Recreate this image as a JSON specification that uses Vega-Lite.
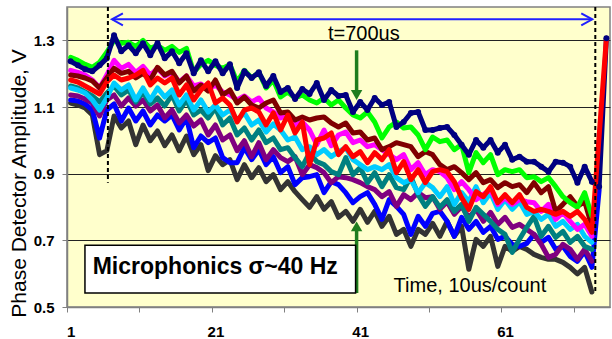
{
"$schema":"https://vega.github.io/schema/vega-lite/v6.json",
"width":543,"height":300,
"autosize":{"type":"none"},
"padding":{"left":67,"top":7,"right":2,"bottom":32},
"background":"#ffffff",
"config":{"view":{"fill":"#FFFFCC","stroke":"#808080","strokeWidth":1.5},"font":"Liberation Sans"},
"datasets":{
"series":[
{"i":1,"navy":1.237,"green":1.249,"magenta":1.21,"maroon":1.196,"red":1.181,"teal":1.163,"cyan":1.157,"purple":1.136,"blue":1.121,"gray":1.112},
{"i":2,"navy":1.225,"green":1.24,"magenta":1.204,"maroon":1.193,"red":1.175,"teal":1.157,"cyan":1.151,"purple":1.133,"blue":1.118,"gray":1.106},
{"i":3,"navy":1.213,"green":1.228,"magenta":1.196,"maroon":1.187,"red":1.163,"teal":1.145,"cyan":1.142,"purple":1.124,"blue":1.109,"gray":1.097},
{"i":4,"navy":1.207,"green":1.219,"magenta":1.181,"maroon":1.178,"red":1.151,"teal":1.133,"cyan":1.121,"purple":1.112,"blue":1.091,"gray":1.076},
{"i":5,"navy":1.225,"green":1.234,"magenta":1.157,"maroon":1.157,"red":1.139,"teal":1.115,"cyan":1.091,"purple":1.073,"blue":1.007,"gray":0.957},
{"i":6,"navy":1.246,"green":1.264,"magenta":1.196,"maroon":1.187,"red":1.175,"teal":1.142,"cyan":1.127,"purple":1.121,"blue":1.091,"gray":0.969},
{"i":7,"navy":1.315,"green":1.3,"magenta":1.24,"maroon":1.216,"red":1.196,"teal":1.163,"cyan":1.172,"purple":1.136,"blue":1.109,"gray":1.073},
{"i":8,"navy":1.267,"green":1.291,"magenta":1.216,"maroon":1.201,"red":1.181,"teal":1.136,"cyan":1.151,"purple":1.103,"blue":1.058,"gray":1.037},
{"i":9,"navy":1.285,"green":1.294,"magenta":1.228,"maroon":1.207,"red":1.187,"teal":1.151,"cyan":1.166,"purple":1.127,"blue":1.097,"gray":1.058},
{"i":10,"navy":1.261,"green":1.282,"magenta":1.204,"maroon":1.187,"red":1.196,"teal":1.115,"cyan":1.121,"purple":1.103,"blue":1.058,"gray":0.987},
{"i":11,"navy":1.291,"green":1.3,"magenta":1.222,"maroon":1.201,"red":1.21,"teal":1.145,"cyan":1.157,"purple":1.121,"blue":1.088,"gray":1.046},
{"i":12,"navy":1.255,"green":1.276,"magenta":1.196,"maroon":1.181,"red":1.166,"teal":1.109,"cyan":1.121,"purple":1.088,"blue":1.046,"gray":0.999},
{"i":13,"navy":1.291,"green":1.285,"magenta":1.216,"maroon":1.219,"red":1.187,"teal":1.127,"cyan":1.157,"purple":1.106,"blue":1.076,"gray":1.028},
{"i":14,"navy":1.246,"green":1.27,"magenta":1.193,"maroon":1.196,"red":1.172,"teal":1.103,"cyan":1.13,"purple":1.067,"blue":1.058,"gray":0.984},
{"i":15,"navy":1.267,"green":1.282,"magenta":1.204,"maroon":1.207,"red":1.187,"teal":1.136,"cyan":1.151,"purple":1.091,"blue":1.076,"gray":1.016},
{"i":16,"navy":1.231,"green":1.264,"magenta":1.175,"maroon":1.172,"red":1.136,"teal":1.088,"cyan":1.106,"purple":1.052,"blue":1.031,"gray":0.969},
{"i":17,"navy":1.261,"green":1.276,"magenta":1.193,"maroon":1.193,"red":1.166,"teal":1.121,"cyan":1.136,"purple":1.076,"blue":1.067,"gray":1.013},
{"i":18,"navy":1.201,"green":1.204,"magenta":1.163,"maroon":1.148,"red":1.121,"teal":1.076,"cyan":1.091,"purple":1.043,"blue":0.978,"gray":0.957},
{"i":19,"navy":1.24,"green":1.228,"magenta":1.169,"maroon":1.166,"red":1.151,"teal":1.091,"cyan":1.121,"purple":1.061,"blue":1.013,"gray":0.987},
{"i":20,"navy":1.207,"green":1.24,"magenta":1.151,"maroon":1.148,"red":1.172,"teal":1.067,"cyan":1.085,"purple":1.016,"blue":0.993,"gray":0.909},
{"i":21,"navy":1.237,"green":1.225,"magenta":1.166,"maroon":1.181,"red":1.112,"teal":1.097,"cyan":1.106,"purple":1.046,"blue":1.007,"gray":0.954},
{"i":22,"navy":1.201,"green":1.216,"magenta":1.145,"maroon":1.136,"red":1.127,"teal":1.046,"cyan":1.076,"purple":1.001,"blue":0.948,"gray":0.927},
{"i":23,"navy":1.228,"green":1.228,"magenta":1.136,"maroon":1.151,"red":1.106,"teal":1.067,"cyan":1.091,"purple":1.016,"blue":0.933,"gray":0.942},
{"i":24,"navy":1.157,"green":1.175,"magenta":1.121,"maroon":1.112,"red":1.055,"teal":1.016,"cyan":1.061,"purple":0.969,"blue":0.933,"gray":0.882},
{"i":25,"navy":1.207,"green":1.21,"magenta":1.133,"maroon":1.13,"red":1.091,"teal":1.037,"cyan":1.082,"purple":0.999,"blue":0.978,"gray":0.927},
{"i":26,"navy":1.187,"green":1.187,"magenta":1.115,"maroon":1.106,"red":1.097,"teal":1.001,"cyan":1.046,"purple":0.951,"blue":0.942,"gray":0.888},
{"i":27,"navy":1.204,"green":1.204,"magenta":1.127,"maroon":1.097,"red":1.085,"teal":1.031,"cyan":1.061,"purple":0.993,"blue":0.972,"gray":0.918},
{"i":28,"navy":1.163,"green":1.157,"magenta":1.097,"maroon":1.112,"red":1.046,"teal":0.993,"cyan":1.025,"purple":0.942,"blue":0.927,"gray":0.876},
{"i":29,"navy":1.193,"green":1.181,"magenta":1.085,"maroon":1.121,"red":1.082,"teal":1.007,"cyan":1.049,"purple":0.972,"blue":0.951,"gray":0.897},
{"i":30,"navy":1.145,"green":1.13,"magenta":1.067,"maroon":1.082,"red":1.031,"teal":0.972,"cyan":1.031,"purple":0.948,"blue":0.903,"gray":0.852},
{"i":31,"navy":1.157,"green":1.145,"magenta":1.076,"maroon":1.085,"red":1.076,"teal":0.978,"cyan":1.001,"purple":0.936,"blue":0.921,"gray":0.876},
{"i":32,"navy":1.124,"green":1.127,"magenta":1.046,"maroon":1.061,"red":1.022,"teal":0.948,"cyan":1.01,"purple":0.951,"blue":0.867,"gray":0.846},
{"i":33,"navy":1.154,"green":1.136,"magenta":1.055,"maroon":1.07,"red":1.055,"teal":0.921,"cyan":0.972,"purple":0.897,"blue":0.888,"gray":0.822},
{"i":34,"navy":1.139,"green":1.121,"magenta":1.031,"maroon":1.061,"red":0.927,"teal":0.963,"cyan":0.981,"purple":0.927,"blue":0.891,"gray":0.799},
{"i":35,"navy":1.172,"green":1.112,"magenta":0.987,"maroon":1.067,"red":1.001,"teal":0.936,"cyan":0.957,"purple":0.918,"blue":0.897,"gray":0.831},
{"i":36,"navy":1.121,"green":1.127,"magenta":1.031,"maroon":1.07,"red":1.007,"teal":0.927,"cyan":0.972,"purple":0.903,"blue":0.843,"gray":0.793},
{"i":37,"navy":1.151,"green":1.106,"magenta":0.984,"maroon":1.052,"red":1.022,"teal":0.906,"cyan":0.951,"purple":0.873,"blue":0.876,"gray":0.816},
{"i":38,"navy":1.133,"green":1.121,"magenta":1.016,"maroon":1.04,"red":0.957,"teal":0.897,"cyan":0.966,"purple":0.891,"blue":0.867,"gray":0.769},
{"i":39,"navy":1.136,"green":1.097,"magenta":1.025,"maroon":1.052,"red":0.981,"teal":0.948,"cyan":0.978,"purple":0.888,"blue":0.843,"gray":0.787},
{"i":40,"navy":1.085,"green":1.076,"magenta":0.993,"maroon":1.022,"red":0.951,"teal":0.897,"cyan":0.942,"purple":0.882,"blue":0.813,"gray":0.757},
{"i":41,"navy":1.115,"green":1.067,"magenta":1.001,"maroon":1.025,"red":0.966,"teal":0.918,"cyan":0.927,"purple":0.873,"blue":0.831,"gray":0.793},
{"i":42,"navy":1.091,"green":1.085,"magenta":0.981,"maroon":1.001,"red":0.933,"teal":0.873,"cyan":0.912,"purple":0.861,"blue":0.843,"gray":0.754},
{"i":43,"navy":1.127,"green":1.055,"magenta":0.987,"maroon":1.007,"red":0.963,"teal":0.903,"cyan":0.921,"purple":0.852,"blue":0.808,"gray":0.787},
{"i":44,"navy":1.106,"green":1.007,"magenta":0.972,"maroon":0.972,"red":0.942,"teal":0.861,"cyan":0.912,"purple":0.831,"blue":0.763,"gray":0.742},
{"i":45,"navy":1.115,"green":1.04,"magenta":0.957,"maroon":0.981,"red":0.972,"teal":0.897,"cyan":0.927,"purple":0.846,"blue":0.822,"gray":0.772},
{"i":46,"navy":1.04,"green":1.055,"magenta":0.942,"maroon":0.993,"red":0.903,"teal":0.858,"cyan":0.888,"purple":0.802,"blue":0.802,"gray":0.718},
{"i":47,"navy":1.055,"green":1.037,"magenta":0.957,"maroon":0.987,"red":0.936,"teal":0.852,"cyan":0.873,"purple":0.837,"blue":0.778,"gray":0.733},
{"i":48,"navy":1.082,"green":1.04,"magenta":0.912,"maroon":0.981,"red":0.882,"teal":0.891,"cyan":0.882,"purple":0.822,"blue":0.718,"gray":0.682},
{"i":49,"navy":1.085,"green":1.016,"magenta":0.933,"maroon":0.951,"red":0.912,"teal":0.837,"cyan":0.843,"purple":0.843,"blue":0.772,"gray":0.733},
{"i":50,"navy":1.031,"green":0.972,"magenta":0.897,"maroon":0.966,"red":0.873,"teal":0.802,"cyan":0.873,"purple":0.828,"blue":0.742,"gray":0.718},
{"i":51,"navy":1.031,"green":1.01,"magenta":0.912,"maroon":0.957,"red":0.906,"teal":0.831,"cyan":0.858,"purple":0.831,"blue":0.781,"gray":0.751},
{"i":52,"navy":1.037,"green":0.996,"magenta":0.906,"maroon":0.927,"red":0.912,"teal":0.799,"cyan":0.831,"purple":0.793,"blue":0.787,"gray":0.712},
{"i":53,"navy":1.04,"green":1.001,"magenta":0.888,"maroon":0.912,"red":0.906,"teal":0.822,"cyan":0.861,"purple":0.816,"blue":0.757,"gray":0.757},
{"i":54,"navy":1.016,"green":0.972,"magenta":0.852,"maroon":0.921,"red":0.876,"teal":0.787,"cyan":0.808,"purple":0.778,"blue":0.712,"gray":0.712},
{"i":55,"navy":0.987,"green":0.987,"magenta":0.876,"maroon":0.903,"red":0.828,"teal":0.808,"cyan":0.843,"purple":0.802,"blue":0.769,"gray":0.742},
{"i":56,"navy":0.957,"green":0.903,"magenta":0.852,"maroon":0.882,"red":0.793,"teal":0.757,"cyan":0.816,"purple":0.769,"blue":0.733,"gray":0.613},
{"i":57,"navy":1.001,"green":0.963,"magenta":0.822,"maroon":0.903,"red":0.846,"teal":0.799,"cyan":0.861,"purple":0.793,"blue":0.757,"gray":0.703},
{"i":58,"navy":0.978,"green":0.933,"magenta":0.837,"maroon":0.873,"red":0.831,"teal":0.778,"cyan":0.813,"purple":0.757,"blue":0.724,"gray":0.682},
{"i":59,"navy":1.001,"green":0.957,"magenta":0.852,"maroon":0.882,"red":0.861,"teal":0.757,"cyan":0.843,"purple":0.784,"blue":0.742,"gray":0.712},
{"i":60,"navy":0.963,"green":0.897,"magenta":0.808,"maroon":0.858,"red":0.813,"teal":0.733,"cyan":0.793,"purple":0.748,"blue":0.703,"gray":0.622},
{"i":61,"navy":0.987,"green":0.912,"magenta":0.828,"maroon":0.873,"red":0.837,"teal":0.718,"cyan":0.822,"purple":0.769,"blue":0.712,"gray":0.682},
{"i":62,"navy":0.942,"green":0.906,"magenta":0.808,"maroon":0.861,"red":0.813,"teal":0.664,"cyan":0.793,"purple":0.739,"blue":0.688,"gray":0.667},
{"i":63,"navy":0.951,"green":0.912,"magenta":0.822,"maroon":0.867,"red":0.837,"teal":0.703,"cyan":0.816,"purple":0.748,"blue":0.682,"gray":0.682},
{"i":64,"navy":0.936,"green":0.888,"magenta":0.816,"maroon":0.843,"red":0.799,"teal":0.739,"cyan":0.778,"purple":0.733,"blue":0.691,"gray":0.673},
{"i":65,"navy":0.936,"green":0.891,"magenta":0.813,"maroon":0.873,"red":0.787,"teal":0.772,"cyan":0.787,"purple":0.718,"blue":0.718,"gray":0.658},
{"i":66,"navy":0.921,"green":0.876,"magenta":0.787,"maroon":0.843,"red":0.793,"teal":0.712,"cyan":0.763,"purple":0.688,"blue":0.694,"gray":0.649},
{"i":67,"navy":0.906,"green":0.888,"magenta":0.808,"maroon":0.861,"red":0.787,"teal":0.742,"cyan":0.778,"purple":0.649,"blue":0.709,"gray":0.643},
{"i":68,"navy":0.936,"green":0.861,"magenta":0.763,"maroon":0.787,"red":0.778,"teal":0.709,"cyan":0.742,"purple":0.658,"blue":0.673,"gray":0.643},
{"i":69,"navy":0.933,"green":0.831,"magenta":0.784,"maroon":0.808,"red":0.787,"teal":0.727,"cyan":0.757,"purple":0.688,"blue":0.682,"gray":0.634},
{"i":70,"navy":0.921,"green":0.813,"magenta":0.757,"maroon":0.831,"red":0.772,"teal":0.694,"cyan":0.733,"purple":0.673,"blue":0.652,"gray":0.619},
{"i":71,"navy":0.873,"green":0.799,"magenta":0.733,"maroon":0.802,"red":0.787,"teal":0.712,"cyan":0.748,"purple":0.643,"blue":0.637,"gray":0.599},
{"i":72,"navy":0.921,"green":0.843,"magenta":0.748,"maroon":0.816,"red":0.763,"teal":0.682,"cyan":0.712,"purple":0.673,"blue":0.667,"gray":0.619},
{"i":73,"navy":0.876,"green":0.772,"magenta":0.712,"maroon":0.742,"red":0.724,"teal":0.673,"cyan":0.694,"purple":0.637,"blue":0.619,"gray":0.545},
{"i":74,"navy":0.861,"red":1.013,"blue":0.852},
{"i":75,"navy":1.306,"red":1.306}
],
"vlines":[{"i":6.15,"v":1.4,"v2":0.873},{"i":73.47,"v":1.4,"v2":0.545}],
"arrow":[
{"g":"shaft","o":1,"i":6.71,"v":1.363},{"g":"shaft","o":2,"i":73.05,"v":1.363},
{"g":"left","o":1,"i":8.22,"v":1.381},{"g":"left","o":2,"i":6.71,"v":1.363},{"g":"left","o":3,"i":8.22,"v":1.345},
{"g":"right","o":1,"i":71.53,"v":1.381},{"g":"right","o":2,"i":73.05,"v":1.363},{"g":"right","o":3,"i":71.53,"v":1.345}
],
"gshaft":[{"i":40.5,"v":1.27,"v2":1.15},{"i":40.5,"v":0.542,"v2":0.73}],
"gheads":[{"i":40.5,"v":1.136,"shape":"triangle-down"},{"i":40.5,"v":0.742,"shape":"triangle-up"}],
"box":[{"i":2.98,"i2":40.36,"v":0.685,"v2":0.542}],
"label_box":[{"i":20.98,"v":0.619,"t":"Microphonics σ~40 Hz"}],
"label_plain":[{"i":41.5,"v":1.318,"t":"t=700us"},{"i":56.15,"v":0.563,"t":"Time, 10us/count"}]
},
"layer":[
{"data":{"name":"series"},
 "transform":[{"fold":["gray","blue","purple","teal","cyan","magenta","maroon","green","navy","red"],"as":["s","v"]},{"filter":"isValid(datum.v)"}],
 "mark":{"type":"line","strokeWidth":5,"strokeJoin":"round","strokeCap":"round"},
 "encoding":{
  "x":{"field":"i","type":"quantitative","scale":{"domain":[0.5,75.5],"nice":false,"zero":false},
   "axis":{"values":[0.5,10.5,20.5,30.5,40.5,50.5,60.5,70.5],"labelExpr":"datum.value==0.5?'1':datum.value==20.5?'21':datum.value==40.5?'41':datum.value==60.5?'61':''","labelOffset":3.6,"title":null,"grid":false,"tickSize":5,"tickColor":"#808080","domainColor":"#808080","domainWidth":1.5,"labelFontSize":15,"labelFontWeight":"bold","labelColor":"#000000","labelPadding":12,"labelFont":"Liberation Sans","labelFlush":false,"labelOverlap":false}},
  "y":{"field":"v","type":"quantitative","scale":{"domain":[0.5,1.4],"nice":false,"zero":false},
   "axis":{"values":[0.5,0.7,0.9,1.1,1.3],"format":".1f","title":"Phase Detector Amplitude, V","titleFontSize":21,"titleFontWeight":"normal","titleColor":"#000000","titleFont":"Liberation Sans","titleY":176,"titlePadding":4,"grid":true,"gridColor":{"condition":{"test":"datum.value==0.5","value":"#808080"},"value":"#222222"},"gridWidth":1,"tickSize":5,"tickColor":"#808080","domainColor":"#808080","domainWidth":1.5,"labelFontSize":15,"labelFontWeight":"bold","labelColor":"#000000","labelPadding":8,"labelFont":"Liberation Sans","labelOverlap":false,"labelFlush":false}},
  "color":{"field":"s","type":"nominal","legend":null,
   "scale":{"domain":["gray","blue","purple","teal","cyan","magenta","maroon","green","navy","red"],
    "range":["#333333","#0000FF","#800080","#008080","#00CCFF","#FF00FF","#800000","#00FF00","#000080","#FF0000"]}}
 }},
{"data":{"name":"series"},
 "transform":[{"fold":["navy"],"as":["s","v"]},{"filter":"isValid(datum.v)"}],
 "mark":{"type":"point","filled":true,"opacity":1,"size":36,"color":"#000080"},
 "encoding":{"x":{"field":"i","type":"quantitative"},"y":{"field":"v","type":"quantitative"}}},
{"data":{"name":"vlines"},
 "mark":{"type":"rule","color":"#000000","strokeWidth":2,"strokeDash":[4,3]},
 "encoding":{"x":{"field":"i","type":"quantitative"},"y":{"field":"v","type":"quantitative"},"y2":{"field":"v2"}}},
{"data":{"name":"arrow"},
 "mark":{"type":"line","color":"#2020FF","strokeWidth":2},
 "encoding":{"x":{"field":"i","type":"quantitative"},"y":{"field":"v","type":"quantitative"},"detail":{"field":"g"},"order":{"field":"o"}}},
{"data":{"name":"gshaft"},
 "mark":{"type":"rule","color":"#1E7D1E","strokeWidth":3.5},
 "encoding":{"x":{"field":"i","type":"quantitative"},"y":{"field":"v","type":"quantitative"},"y2":{"field":"v2"}}},
{"data":{"name":"gheads"},
 "mark":{"type":"point","filled":true,"opacity":1,"size":130,"color":"#1E7D1E"},
 "encoding":{"x":{"field":"i","type":"quantitative"},"y":{"field":"v","type":"quantitative"},"shape":{"field":"shape","type":"nominal","scale":null}}},
{"data":{"name":"box"},
 "mark":{"type":"rect","fill":"#FFFFFF","stroke":"#000000","strokeWidth":1.5},
 "encoding":{"x":{"field":"i","type":"quantitative"},"x2":{"field":"i2"},"y":{"field":"v","type":"quantitative"},"y2":{"field":"v2"}}},
{"data":{"name":"label_box"},
 "mark":{"type":"text","fontSize":23,"fontWeight":"bold","font":"Liberation Sans","color":"#000000","align":"center","baseline":"middle"},
 "encoding":{"x":{"field":"i","type":"quantitative"},"y":{"field":"v","type":"quantitative"},"text":{"field":"t"}}},
{"data":{"name":"label_plain"},
 "mark":{"type":"text","fontSize":20,"font":"Liberation Sans","color":"#000000","align":"center","baseline":"middle"},
 "encoding":{"x":{"field":"i","type":"quantitative"},"y":{"field":"v","type":"quantitative"},"text":{"field":"t"}}}
]
}
